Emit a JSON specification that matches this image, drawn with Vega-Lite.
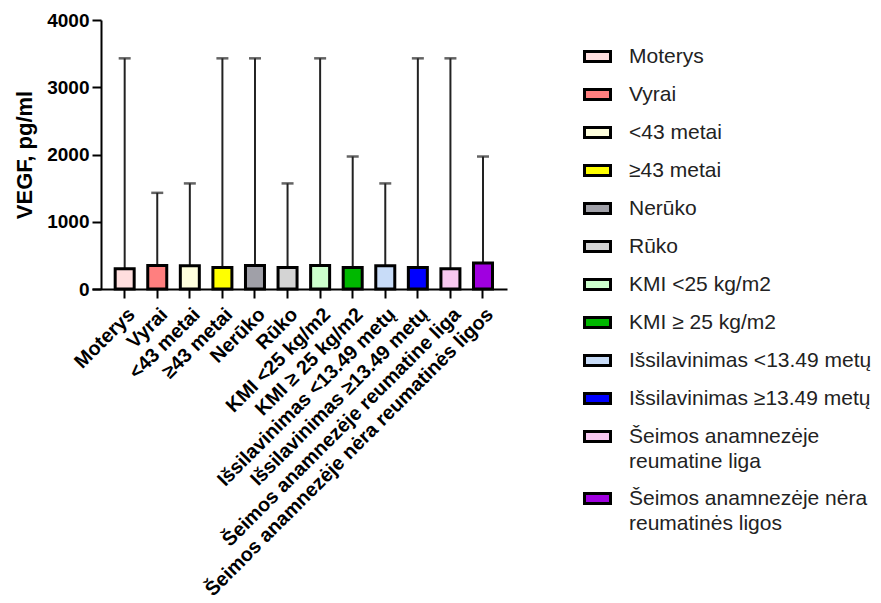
{
  "$schema": "https://vega.github.io/schema/vega-lite/v6.json",
  "width": 415,
  "height": 269,
  "autosize": {"type": "none"},
  "padding": {"left": 92, "top": 20, "right": 374, "bottom": 314},
  "background": "white",
  "config": {
    "view": {"stroke": null},
    "font": "Liberation Sans",
    "axis": {"grid": false, "domainColor": "black", "tickColor": "black", "labelColor": "black", "titleColor": "black"},
    "style": {"guide-label": {"lineHeight": 25}}
  },
  "data": {
    "values": [
      {"group": "Moterys", "vegf": 300, "max": 3430},
      {"group": "Vyrai", "vegf": 350, "max": 1430},
      {"group": "<43 metai", "vegf": 345, "max": 1570},
      {"group": "≥43 metai", "vegf": 320, "max": 3430},
      {"group": "Nerūko", "vegf": 350, "max": 3430},
      {"group": "Rūko", "vegf": 320, "max": 1570},
      {"group": "KMI <25 kg/m2", "vegf": 350, "max": 3430},
      {"group": "KMI ≥ 25 kg/m2", "vegf": 320, "max": 1970},
      {"group": "Išsilavinimas <13.49 metų", "vegf": 345, "max": 1570},
      {"group": "Išsilavinimas ≥13.49 metų", "vegf": 320, "max": 3430},
      {"group": "Šeimos anamnezėje reumatine liga", "vegf": 300, "max": 3430},
      {"group": "Šeimos anamnezėje nėra reumatinės ligos", "vegf": 385, "max": 1970}
    ]
  },
  "encoding": {
    "x": {
      "field": "group",
      "type": "nominal",
      "sort": null,
      "scale": {"paddingInner": 0, "paddingOuter": 0.37, "align": 0.68},
      "axis": {
        "title": null,
        "labelAngle": -45,
        "labelFontSize": 19.8,
        "labelFontWeight": "bold",
        "labelLimit": 600,
        "labelPadding": 6,
        "tickSize": 9,
        "tickWidth": 2,
        "domainWidth": 2
      }
    }
  },
  "layer": [
    {
      "mark": {"type": "rule", "color": "#222", "strokeWidth": 2},
      "encoding": {
        "y": {"field": "vegf", "type": "quantitative"},
        "y2": {"field": "max"}
      }
    },
    {
      "mark": {"type": "tick", "color": "#222", "thickness": 2.5, "size": 12},
      "encoding": {
        "y": {"field": "max", "type": "quantitative"}
      }
    },
    {
      "mark": {"type": "bar", "width": 19, "stroke": "black", "strokeWidth": 3},
      "encoding": {
        "y": {
          "field": "vegf",
          "type": "quantitative",
          "scale": {"domain": [0, 4000], "nice": false},
          "axis": {
            "title": "VEGF, pg/ml",
            "titleFontSize": 22,
            "titleFontWeight": "bold",
            "titlePadding": 10,
            "values": [0, 1000, 2000, 3000, 4000],
            "format": "d",
            "labelFontSize": 19,
            "labelFontWeight": "bold",
            "labelPadding": 3,
            "offset": -9,
            "tickSize": 9,
            "tickWidth": 2,
            "domainWidth": 2
          }
        },
        "fill": {
          "field": "group",
          "type": "nominal",
          "sort": null,
          "scale": {
            "range": ["#FFDEDE", "#FF7F7F", "#FFFFDD", "#FFFF00", "#A0A0A8", "#D4D4D4", "#CCFFCC", "#00B800", "#C8DCF8", "#0000FF", "#F8C8F0", "#A000E0"]
          },
          "legend": {
            "title": null,
            "orient": "none",
            "legendX": 491,
            "legendY": 22,
            "symbolType": "M-1,-0.38H1V0.38H-1Z",
            "symbolSize": 676,
            "symbolStrokeColor": "black",
            "symbolStrokeWidth": 3,
            "symbolOffset": 0,
            "labelOffset": 17,
            "labelFontSize": 21,
            "labelColor": "#222",
            "labelLimit": 600,
            "rowPadding": 12,
            "labelExpr": "datum.label == 'Šeimos anamnezėje reumatine liga' ? ['Šeimos anamnezėje', 'reumatine liga'] : datum.label == 'Šeimos anamnezėje nėra reumatinės ligos' ? ['Šeimos anamnezėje nėra', 'reumatinės ligos'] : datum.label"
          }
        }
      }
    }
  ]
}
